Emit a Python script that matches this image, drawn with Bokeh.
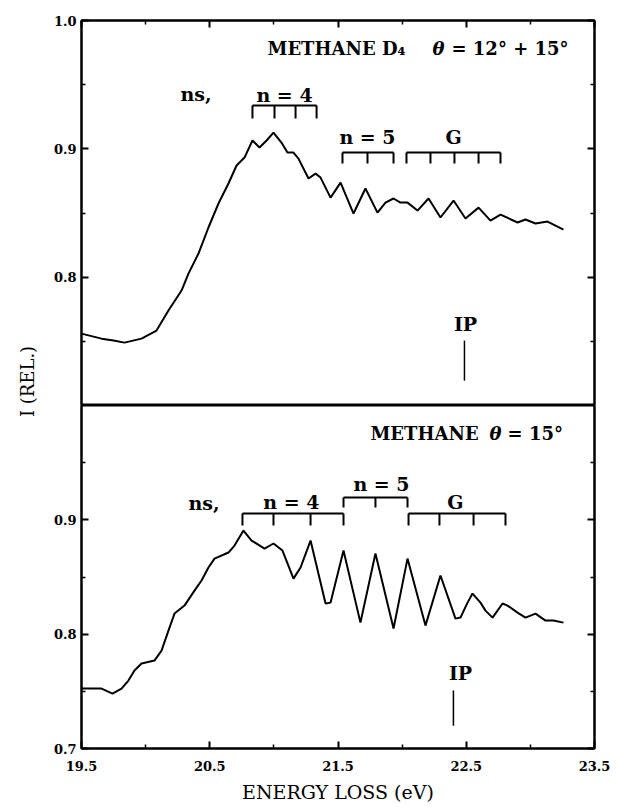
import math
from bokeh.plotting import figure
from bokeh.layouts import column, row
from bokeh.models import LinearAxis, FixedTicker, PrintfTickFormatter, Range1d
from bokeh.embed import file_html
from bokeh.resources import INLINE
from bokeh.core.properties import value

# ---------------- data ----------------
# CD4, theta = 12 + 15 deg (upper panel)
cd4_energy = [19.500, 19.656, 19.750, 19.835, 19.968, 20.085, 20.178, 20.280, 20.334,
              20.412, 20.490, 20.568, 20.646, 20.709, 20.771, 20.833, 20.888, 20.943,
              20.997, 21.059, 21.106, 21.153, 21.192, 21.270, 21.325, 21.364, 21.442,
              21.520, 21.621, 21.714, 21.808, 21.870, 21.933, 21.987, 22.042, 22.120,
              22.206, 22.299, 22.401, 22.494, 22.596, 22.689, 22.767, 22.900, 22.962,
              23.040, 23.134, 23.258]
cd4_intensity = [0.7560, 0.7521, 0.7506, 0.7490, 0.7521, 0.7584, 0.7740, 0.7896, 0.8028,
                 0.8184, 0.8387, 0.8574, 0.8730, 0.8870, 0.8932, 0.9065, 0.9010, 0.9065,
                 0.9127, 0.9049, 0.8971, 0.8971, 0.8924, 0.8769, 0.8807, 0.8776, 0.8620,
                 0.8737, 0.8496, 0.8691, 0.8503, 0.8581, 0.8613, 0.8581, 0.8581, 0.8519,
                 0.8613, 0.8465, 0.8597, 0.8457, 0.8542, 0.8441, 0.8488, 0.8426, 0.8449,
                 0.8418, 0.8433, 0.8371]

# CH4, theta = 15 deg (lower panel)
ch4_energy = [19.500, 19.656, 19.742, 19.812, 19.866, 19.913, 19.968, 20.069, 20.124,
              20.178, 20.225, 20.303, 20.381, 20.436, 20.490, 20.537, 20.646, 20.693,
              20.763, 20.826, 20.927, 20.997, 21.067, 21.153, 21.208, 21.286, 21.403,
              21.442, 21.543, 21.675, 21.792, 21.933, 22.042, 22.182, 22.299, 22.416,
              22.455, 22.510, 22.549, 22.611, 22.650, 22.705, 22.783, 22.822, 22.900,
              22.962, 23.040, 23.118, 23.180, 23.258]
ch4_intensity = [0.7524, 0.7524, 0.7480, 0.7524, 0.7594, 0.7682, 0.7743, 0.7769, 0.7856,
                 0.8031, 0.8180, 0.8250, 0.8381, 0.8469, 0.8583, 0.8661, 0.8714, 0.8775,
                 0.8906, 0.8819, 0.8749, 0.8793, 0.8731, 0.8486, 0.8583, 0.8819, 0.8268,
                 0.8276, 0.8731, 0.8101, 0.8705, 0.8049, 0.8661, 0.8075, 0.8513, 0.8136,
                 0.8145, 0.8276, 0.8355, 0.8276, 0.8206, 0.8145, 0.8268, 0.8250, 0.8189,
                 0.8145, 0.8180, 0.8119, 0.8119, 0.8101]

# Rydberg series markers (energies in eV)
cd4_n4 = [20.833, 21.005, 21.169, 21.333]
cd4_n5 = [21.535, 21.730, 21.933]
cd4_g = [22.034, 22.221, 22.408, 22.596, 22.767]
cd4_ip = 22.486

ch4_n4 = [20.755, 20.997, 21.286, 21.543]
ch4_n5 = [21.543, 21.792, 22.042]
ch4_g = [22.050, 22.291, 22.557, 22.806]
ch4_ip = 22.40

x_major = [19.5, 20.5, 21.5, 22.5, 23.5]
x_minor = [20.0, 21.0, 22.0, 23.0]
y_minor = [0.75, 0.85, 0.95]
top_y_major = [0.8, 0.9, 1.0]
bottom_y_major = [0.7, 0.8, 0.9]

# ---------------- styling helpers ----------------
SERIF = "DejaVu Serif"
X_RANGE = Range1d(19.5, 23.5)


def style_axis(ax, major, minor, labels=True):
    ax.ticker = FixedTicker(ticks=major, minor_ticks=minor)
    ax.formatter = PrintfTickFormatter(format="%.1f")
    ax.axis_line_color = "black"
    ax.axis_line_width = 2
    ax.major_tick_in = 7
    ax.major_tick_out = 0
    ax.minor_tick_in = 4
    ax.minor_tick_out = 0
    ax.major_tick_line_width = 2
    ax.minor_tick_line_width = 1.5
    ax.major_label_text_font = SERIF
    ax.major_label_text_font_style = "bold"
    ax.major_label_text_font_size = "13px"
    ax.major_label_text_color = "black"
    if not labels:
        # mirrored ticks only: blank labels
        ax.major_label_overrides = {t: "" for t in major}
        ax.major_label_standoff = 0


def panel(height, border_top, border_bottom, x_above):
    p = figure(width=577, height=height, x_range=X_RANGE, y_range=Range1d(0.7, 1.0),
               output_backend="svg", toolbar_location=None,
               x_axis_location="above" if x_above else "below",
               min_border_left=41, min_border_right=23,
               min_border_top=border_top, min_border_bottom=border_bottom)
    p.xgrid.visible = False
    p.ygrid.visible = False
    p.outline_line_color = "black"
    p.outline_line_width = 2
    p.background_fill_color = "white"
    p.border_fill_color = "white"
    return p


def bracket(p, xs, y_line, drop, width=2):
    p.segment(x0=[xs[0]], y0=[y_line], x1=[xs[-1]], y1=[y_line],
              line_color="black", line_width=width)
    p.segment(x0=xs, y0=[y_line] * len(xs), x1=xs, y1=[y_line - drop] * len(xs),
              line_color="black", line_width=width)


def label(p, x, y, txt, align="center", size="19px", style="bold"):
    p.text(x=[x], y=[y], text=[txt], text_align=align, text_baseline="middle",
           text_font=value(SERIF), text_font_size=size, text_font_style=style,
           text_color="black")


# ---------------- upper panel: CD4 ----------------
top = panel(405, 20, 0, True)
style_axis(top.xaxis[0], x_major, x_minor, labels=False)
style_axis(top.yaxis[0], top_y_major, y_minor)
right_top = LinearAxis()
style_axis(right_top, top_y_major, y_minor, labels=False)
top.add_layout(right_top, "right")

top.line(cd4_energy, cd4_intensity, line_color="black", line_width=2)

label(top, 20.950, 0.9782, "METHANE D\u2084", align="left", size="18px")
label(top, 22.284, 0.9782, "\u03b8", size="18px", style="bold italic")
label(top, 22.385, 0.9782, "= 12\u00b0 + 15\u00b0", align="left", size="18px")
label(top, 20.272, 0.9431, "ns,", align="left")
label(top, 21.083, 0.9418, "n = 4")
label(top, 21.730, 0.9096, "n = 5")
label(top, 22.401, 0.9096, "G")
label(top, 22.494, 0.7638, "IP")

bracket(top, cd4_n4, 0.9337, 0.0101)
bracket(top, cd4_n5, 0.8971, 0.0086)
bracket(top, cd4_g, 0.8971, 0.0086)
top.segment(x0=[cd4_ip], y0=[0.7506], x1=[cd4_ip], y1=[0.7194],
            line_color="black", line_width=1.5)

# ---------------- lower panel: CH4 ----------------
bottom = panel(402, 0, 59, False)
style_axis(bottom.xaxis[0], x_major, x_minor)
bottom.xaxis[0].major_label_standoff = 12
bottom.xaxis[0].axis_label = "ENERGY LOSS (eV)"
bottom.xaxis[0].axis_label_text_font = SERIF
bottom.xaxis[0].axis_label_text_font_size = "19px"
bottom.xaxis[0].axis_label_text_font_style = "normal"
bottom.xaxis[0].axis_label_text_color = "black"
bottom.xaxis[0].axis_label_standoff = 7
style_axis(bottom.yaxis[0], bottom_y_major, y_minor)
right_bottom = LinearAxis()
style_axis(right_bottom, bottom_y_major, y_minor, labels=False)
bottom.add_layout(right_bottom, "right")

bottom.line(ch4_energy, ch4_intensity, line_color="black", line_width=2)

label(bottom, 21.753, 0.9755, "METHANE", align="left", size="18px")
label(bottom, 22.728, 0.9755, "\u03b8", size="18px", style="bold italic")
label(bottom, 22.822, 0.9755, "= 15\u00b0", align="left", size="18px")
label(bottom, 20.334, 0.9143, "ns,", align="left")
label(bottom, 21.137, 0.9160, "n = 4")
label(bottom, 21.839, 0.9310, "n = 5")
label(bottom, 22.416, 0.9160, "G")
label(bottom, 22.455, 0.7664, "IP")

bracket(bottom, ch4_n4, 0.9055, 0.0105)
bracket(bottom, ch4_n5, 0.9195, 0.0088)
bracket(bottom, ch4_g, 0.9055, 0.0105)
bottom.segment(x0=[ch4_ip], y0=[0.7507], x1=[ch4_ip], y1=[0.7200],
               line_color="black", line_width=1.5)

# ---------------- shared y-axis title ----------------
ytitle = figure(width=40, height=807, x_range=Range1d(0, 40), y_range=Range1d(0, 807),
                output_backend="svg", toolbar_location=None,
                min_border=0, outline_line_color=None)
ytitle.axis.visible = False
ytitle.grid.visible = False
ytitle.text(x=[27], y=[426], text=["I (REL.)"], angle=math.pi / 2,
            text_align="center", text_baseline="middle",
            text_font=value(SERIF), text_font_size="18px", text_color="black")

layout = row(ytitle, column(top, bottom, spacing=0), spacing=0)

open("out.html", "w").write(file_html(layout, INLINE))
